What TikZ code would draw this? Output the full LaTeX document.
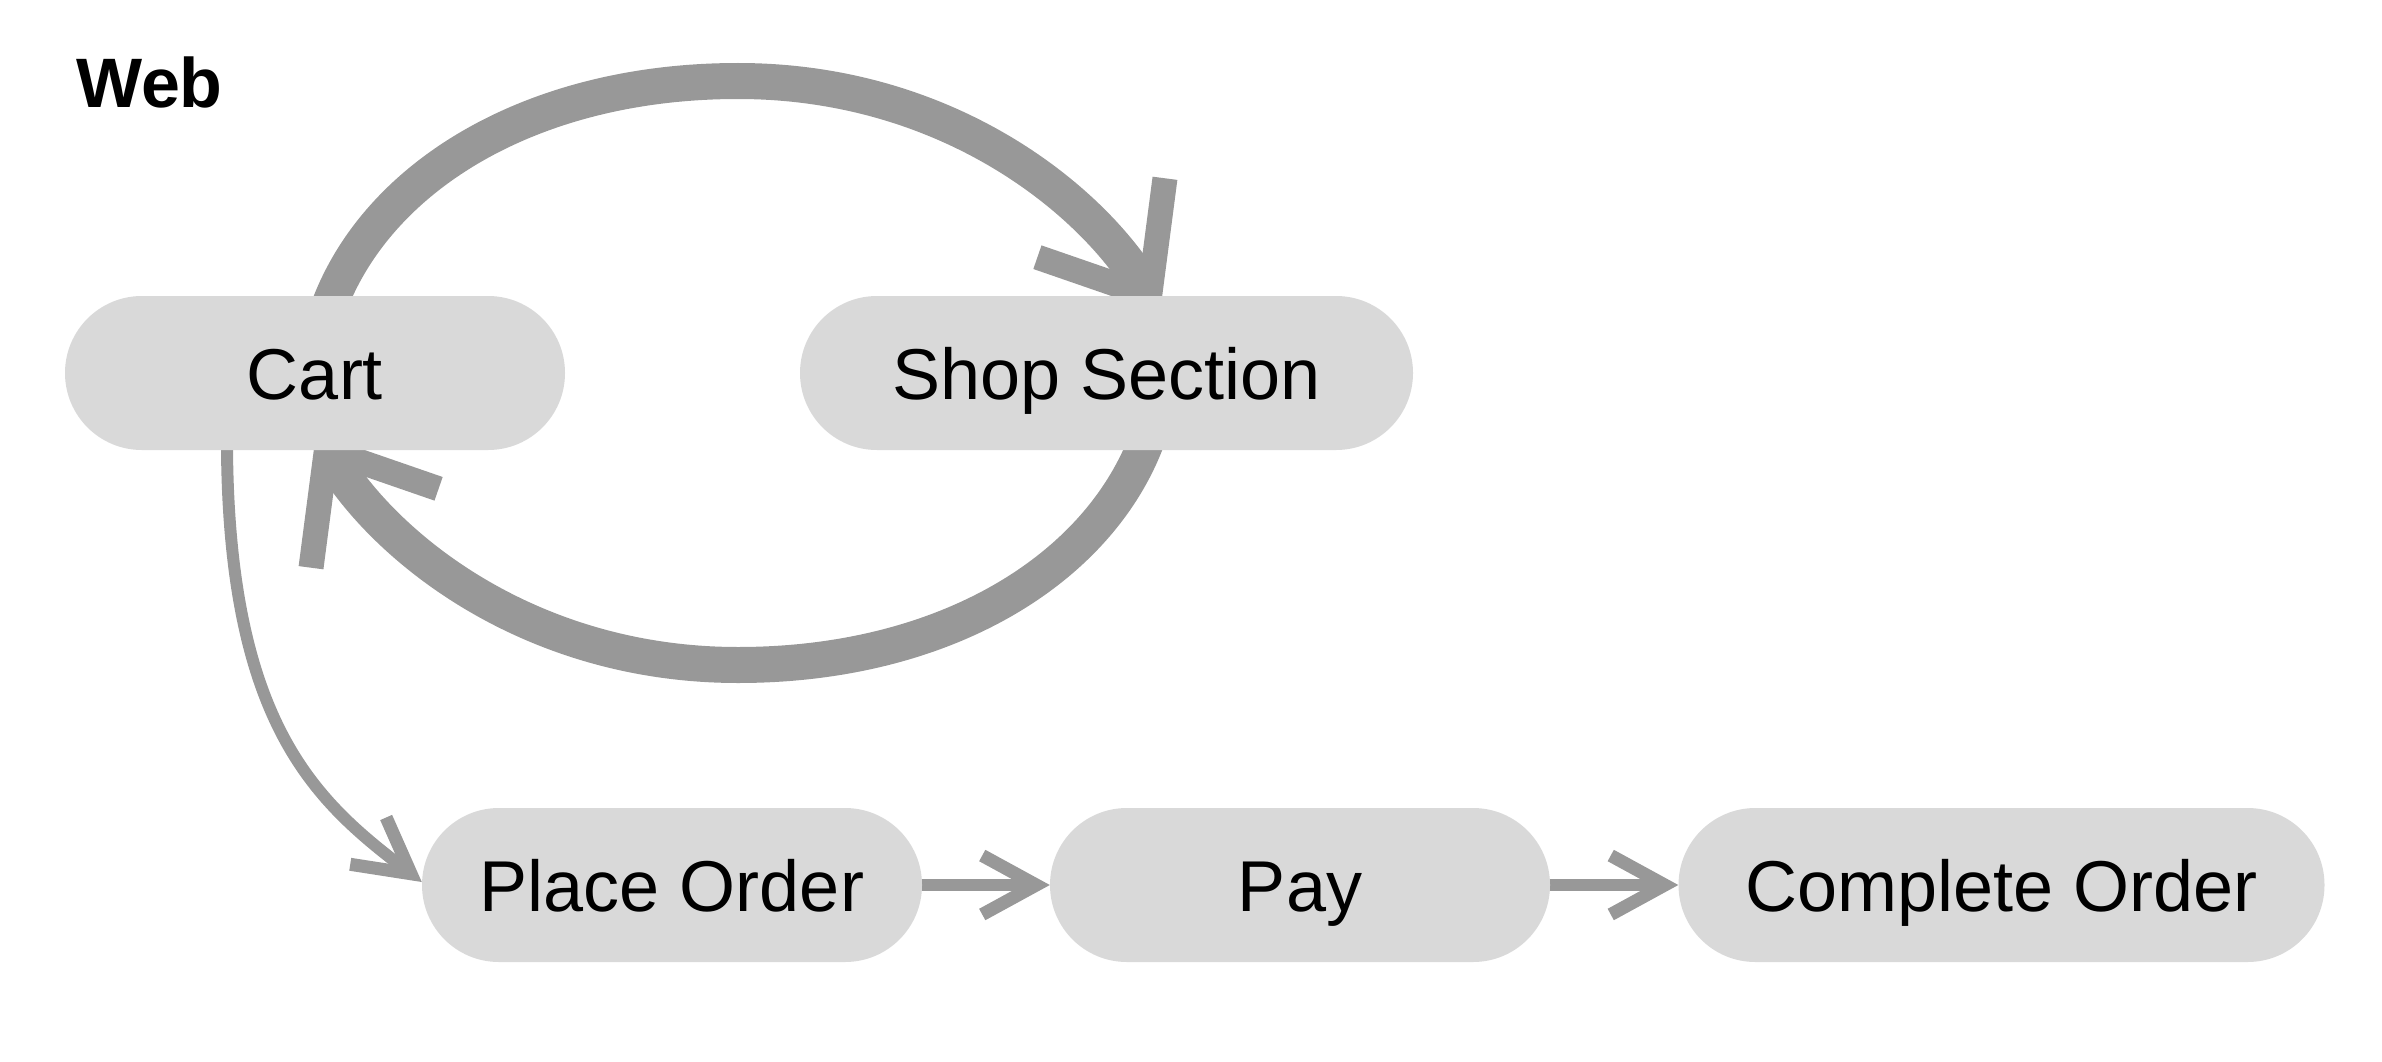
\documentclass[tikz,border=0pt]{standalone}
\usepackage{fontspec}
\setmainfont{Liberation Sans}
\usetikzlibrary{arrows.meta}
\definecolor{nodefill}{HTML}{D9D9D9}
\definecolor{edgegray}{HTML}{989898}
\pgfdeclarelayer{background}
\pgfsetlayers{background,main}
\begin{document}
\begin{tikzpicture}[x=1pt,y=1pt,
  pill/.style={rectangle, rounded corners=76.9pt, fill=nodefill, draw=none,
    minimum height=154pt, inner sep=0pt, text height=52pt, text depth=0pt,
    font=\fontsize{72}{86}\selectfont},
  bigedge/.style={draw=edgegray, line width=36pt,
    -{Straight Barb[length=92pt, width=150pt, line width=25pt]}},
  thinedge/.style={draw=edgegray, line width=12pt,
    -{Straight Barb[length=54pt, width=59pt, line width=13pt]}}]
\useasboundingbox (0,0) rectangle (2382,-1062);
\node[anchor=base west, inner sep=0pt, font=\fontsize{70}{84}\selectfont\bfseries] (title) at (76,-108) {Web};
\node[pill, minimum width=500pt] (cart) at (315,-373) {Cart};
\node[pill, minimum width=613pt] (shop) at (1106.5,-373) {Shop Section};
\node[pill, minimum width=500pt] (place) at (672,-885) {Place Order};
\node[pill, minimum width=500pt] (pay) at (1300,-885) {Pay};
\node[pill, minimum width=646pt] (done) at (2001.5,-885) {Complete Order};
\coordinate (toppeak) at (738,-81);
\coordinate (botpeak) at (738,-665);
\begin{pgfonlayer}{background}
\draw[bigedge] ([xshift=15pt,yshift=-8pt]cart.north)
  .. controls +(50,129) and +(-205,0) .. (toppeak)
  .. controls +(205,0) and +(-73,118) .. ([xshift=53.5pt,yshift=-17pt]shop.north);
\draw[bigedge] ([xshift=39.5pt,yshift=8pt]shop.south)
  .. controls +(-50,-129) and +(205,0) .. (botpeak)
  .. controls +(-205,0) and +(73,-118) .. ([xshift=1pt,yshift=17pt]cart.south);
\draw[thinedge] ([xshift=-88pt,yshift=2pt]cart.south) .. controls +(2pt,-280pt) and +(-103pt,79pt) .. ([yshift=3pt]place.west);
\draw[thinedge] (place.east) -- (pay.west);
\draw[thinedge] (pay.east) -- (done.west);
\end{pgfonlayer}
\end{tikzpicture}
\end{document}
